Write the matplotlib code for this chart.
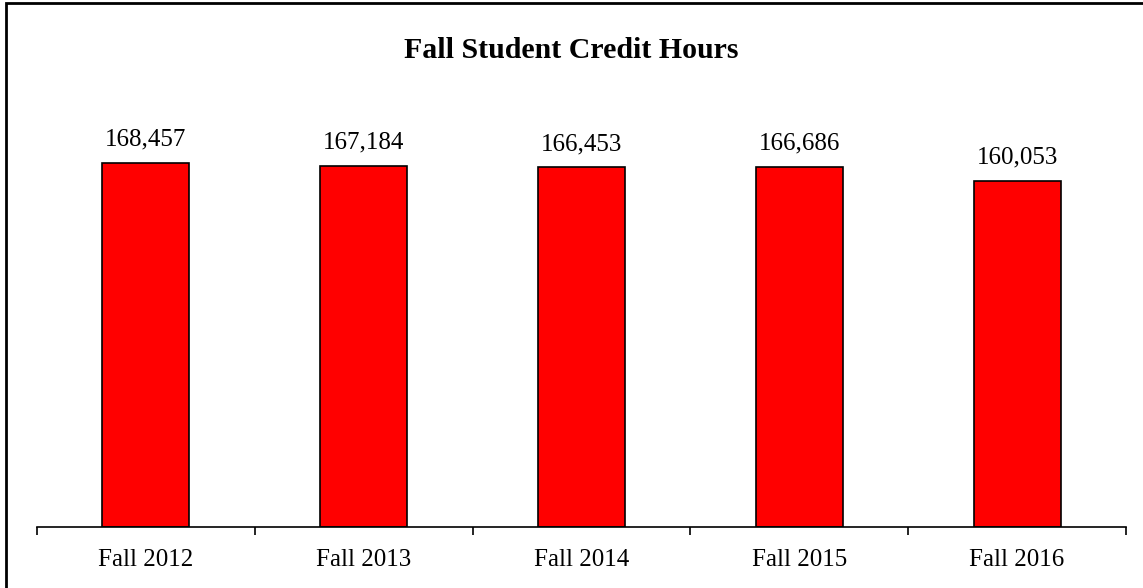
import matplotlib
matplotlib.use("Agg")
import matplotlib.pyplot as plt
from matplotlib.patches import Rectangle
from matplotlib.ticker import FixedLocator

# ---------------------------------------------------------------- data
terms = ["Fall 2012", "Fall 2013", "Fall 2014", "Fall 2015", "Fall 2016"]
credit_hours = [168457, 167184, 166453, 166686, 160053]

plt.rcParams["font.family"] = ["Liberation Serif", "DejaVu Serif"]

W, H = 1143, 588
fig = plt.figure(figsize=(W / 100, H / 100), dpi=100)
ax = fig.add_axes([37 / W, (H - 527) / H, (1126 - 37) / W, (527 - 95) / H])

x = range(len(terms))
ax.bar(x, credit_hours, width=0.40, color="#ff0000", edgecolor="black", linewidth=1.2)

for xi, v in zip(x, credit_hours):
    ax.annotate(f"{v:,}", (xi, v), xytext=(0, 9), textcoords="offset points",
                ha="center", va="bottom", fontsize=18)

ax.set_xlim(-0.5, len(terms) - 0.5)
ax.set_ylim(0, 200000)

# category boundary ticks, labels centred under bars
ax.xaxis.set_major_locator(FixedLocator([i - 0.5 for i in range(len(terms) + 1)]))
ax.xaxis.set_minor_locator(FixedLocator(list(x)))
ax.set_xticklabels([], minor=False)
ax.set_xticklabels(terms, minor=True)
ax.tick_params(axis="x", which="major", direction="out", length=6, width=1.2)
ax.tick_params(axis="x", which="minor", length=0, pad=16, labelsize=18)
ax.set_yticks([])

for side in ["left", "right", "top"]:
    ax.spines[side].set_visible(False)
ax.spines["bottom"].set_linewidth(1.2)

fig.text(0.5, (H - 51) / H, "Fall Student Credit Hours", ha="center", va="center",
         fontsize=21.5, fontweight="bold")

# outer frame (left and top edges visible in the original)
fig.patches.append(Rectangle((6 / W, -0.1), 1.2, (H - 3) / H + 0.1, transform=fig.transFigure,
                             fill=False, edgecolor="black", linewidth=2))

fig.savefig("out.png", dpi=100)
